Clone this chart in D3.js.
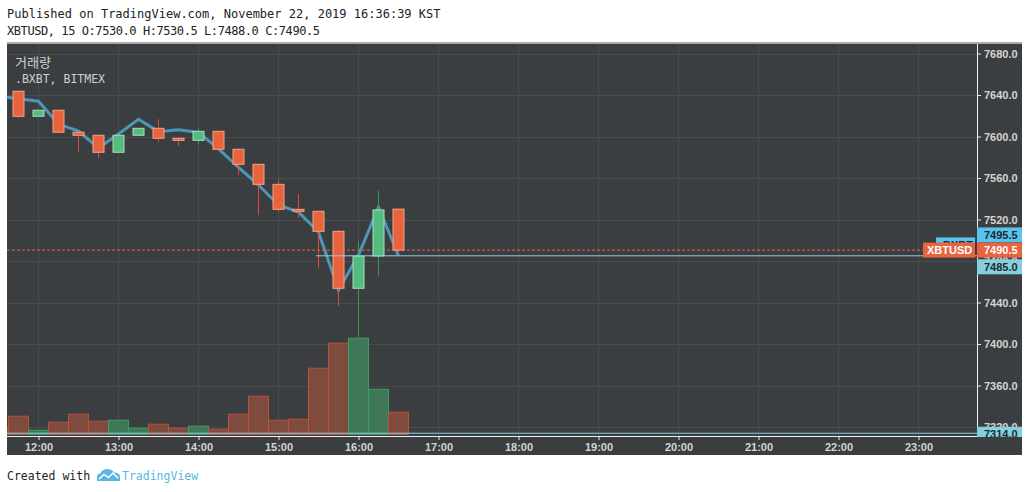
<!DOCTYPE html>
<html>
<head>
<meta charset="utf-8">
<script src="https://cdn.jsdelivr.net/npm/d3@7"></script>
<style>
  body { margin: 0; background: #fff; }
  svg { display: block; }
  .mono { font-family: "DejaVu Sans Mono", monospace; }
  .axis text { font-family: "Liberation Sans", Arial, sans-serif; font-weight: bold; font-size: 11px; fill: #d4d4d4; }
  .axis line { stroke: #e8e8e8; }
</style>
</head>
<body>
<svg id="chart" width="1029" height="492"></svg>
<script>
// XBTUSD 15 min bars, Nov 22 2019
const times  = ["11:30", "11:45", "12:00", "12:15", "12:30", "12:45", "13:00", "13:15", "13:30", "13:45", "14:00",
                "14:15", "14:30", "14:45", "15:00", "15:15", "15:30", "15:45", "16:00", "16:15", "16:30"];
const opens  = [7650.0, 7643.6, 7619.5, 7625.3, 7604.1, 7601.2, 7584.8, 7601.2, 7607.9, 7598.3, 7596.3,
                7605.0, 7587.7, 7573.2, 7553.9, 7529.8, 7527.9, 7508.6, 7453.7, 7484.8, 7530.0];
const highs  = [7655.0, 7644.0, 7625.3, 7625.3, 7604.1, 7601.2, 7601.2, 7607.9, 7616.6, 7598.3, 7607.9,
                7605.0, 7587.7, 7573.2, 7559.0, 7544.6, 7527.9, 7509.9, 7499.3, 7547.5, 7530.5];
const lows   = [7640.0, 7618.0, 7619.5, 7604.1, 7584.8, 7579.6, 7584.8, 7601.2, 7595.0, 7591.1, 7592.0,
                7587.7, 7562.6, 7524.3, 7527.5, 7521.7, 7473.5, 7436.9, 7406.7, 7465.8, 7488.0];
const closes = [7643.6, 7619.5, 7625.3, 7604.1, 7601.2, 7584.8, 7601.2, 7607.9, 7598.3, 7596.3, 7605.0,
                7587.7, 7573.2, 7553.9, 7529.8, 7527.9, 7508.6, 7453.7, 7484.8, 7529.2, 7490.5];
const volumes = [6.6, 18.3, 4.3, 12.3, 20.3, 13.3, 14.3, 6.3, 10.3, 6.3, 8.3,
                 5.3, 20.3, 38.3, 14.3, 15.3, 66.3, 91.3, 96.3, 45.3, 22.3];
// .BXBT index (comparison line)
const bxbt = [7639.0, 7636.4, 7634.0, 7612.0, 7605.3, 7588.9, 7602.4, 7616.6, 7604.7, 7606.6, 7603.9,
              7588.1, 7570.2, 7553.2, 7534.0, 7527.2, 7508.0, 7452.0, 7485.8, 7532.0, 7485.0];

const priceTicks = [7320, 7360, 7400, 7440, 7480, 7520, 7560, 7600, 7640, 7680];
const hourTicks = ["12:00", "13:00", "14:00", "15:00", "16:00", "17:00", "18:00", "19:00", "20:00", "21:00", "22:00", "23:00"];

const lastPrice = 7490.5;    // XBTUSD
const bxbtLast = 7485.0;
const bxbtTag = 7495.5;
const lowTag = 7314.0;

const headerLine1 = "Published on TradingView.com, November 22, 2019 16:36:39 KST";
const headerLine2 = "XBTUSD, 15 O:7530.0 H:7530.5 L:7488.0 C:7490.5";

// layout
const plotL = 7, plotR = 977, plotT = 44, plotB = 436, panelR = 1022, timeB = 455;
const bg = "#3b3e40", grid = "#4a4d4f";
const upFill = "#55bb80", upStroke = "#a5e2b6", upWick = "#2f9c50";
const dnFill = "#e8643f", dnStroke = "#f5a287", dnWick = "#e4463a";

const svg = d3.select("#chart");
const toDate = s => { const [h, m] = s.split(":").map(Number); return new Date(Date.UTC(2019, 10, 22, h, m)); };

const x = d3.scaleUtc()
  .domain([toDate("12:00"), toDate("23:00")])
  .range([38.5, 918.5]);
const y = d3.scaleLinear()
  .domain([7320, 7680])
  .range([427, 53.5]);
const yVol = d3.scaleLinear()
  .domain([0, 100])
  .range([434.5, 334.5]);

const bars = times.map((t, i) => ({
  t: toDate(t), o: opens[i], h: highs[i], l: lows[i], c: closes[i], v: volumes[i], up: closes[i] >= opens[i]
}));

// header
svg.append("text").attr("class", "mono").attr("x", 7).attr("y", 18)
  .attr("font-size", 12).attr("fill", "#222").text(headerLine1);
svg.append("text").attr("class", "mono").attr("x", 7).attr("y", 35)
  .attr("font-size", 12).attr("fill", "#222").attr("textLength", 313).attr("lengthAdjust", "spacing")
  .text(headerLine2);
svg.append("line").attr("x1", 7).attr("x2", panelR).attr("y1", 43).attr("y2", 43)
  .attr("stroke", "#555").attr("stroke-width", 1);

// panels
svg.append("rect").attr("x", plotL).attr("y", plotT).attr("width", panelR - plotL).attr("height", timeB - plotT)
  .attr("fill", bg);

svg.append("clipPath").attr("id", "plotClip")
  .append("rect").attr("x", plotL).attr("y", plotT).attr("width", plotR - plotL).attr("height", plotB - plotT);
const plot = svg.append("g").attr("clip-path", "url(#plotClip)");

// grid
plot.selectAll(".vgrid").data(hourTicks).join("line")
  .attr("x1", d => x(toDate(d))).attr("x2", d => x(toDate(d)))
  .attr("y1", plotT).attr("y2", plotB)
  .attr("stroke", grid);
plot.selectAll(".hgrid").data(priceTicks).join("line")
  .attr("x1", plotL).attr("x2", plotR)
  .attr("y1", d => Math.round(y(d)) + 0.5).attr("y2", d => Math.round(y(d)) + 0.5)
  .attr("stroke", grid);

// .BXBT line
plot.append("path")
  .datum(bars.map((b, i) => ({ t: b.t, p: bxbt[i] })))
  .attr("fill", "none")
  .attr("stroke", "#4a98b6")
  .attr("stroke-width", 3)
  .attr("d", d3.line().x(d => x(d.t)).y(d => y(d.p)));

// last price dashed line
plot.append("line")
  .attr("x1", plotL).attr("x2", 923)
  .attr("y1", y(lastPrice)).attr("y2", y(lastPrice))
  .attr("stroke", "#f2603a").attr("stroke-dasharray", "3,2");

// candles
const candle = plot.selectAll(".candle").data(bars).join("g");
candle.append("line")
  .attr("x1", d => x(d.t)).attr("x2", d => x(d.t))
  .attr("y1", d => y(d.h)).attr("y2", d => y(d.l))
  .attr("stroke", d => d.up ? upWick : dnWick);
candle.append("rect")
  .attr("x", d => x(d.t) - 5.5)
  .attr("width", 11)
  .attr("y", d => y(Math.max(d.o, d.c)))
  .attr("height", d => Math.max(1, Math.abs(y(d.o) - y(d.c))))
  .attr("fill", d => d.up ? upFill : dnFill)
  .attr("stroke", d => d.up ? upStroke : dnStroke);

// volume
plot.selectAll(".vol").data(bars).join("rect")
  .attr("x", d => x(d.t) - 10)
  .attr("width", 20)
  .attr("y", d => yVol(d.v))
  .attr("height", d => yVol(0) - yVol(d.v))
  .attr("fill", d => d.up ? "#3f7858" : "#7f4b3f")
  .attr("stroke", d => d.up ? "#3f9c60" : "#bb5236");

// .BXBT price line and low line
plot.append("line")
  .attr("x1", 316).attr("x2", plotR)
  .attr("y1", y(bxbtLast)).attr("y2", y(bxbtLast))
  .attr("stroke", "#8bd2e4");
plot.append("line")
  .attr("x1", plotL).attr("x2", plotR)
  .attr("y1", y(lowTag)).attr("y2", y(lowTag))
  .attr("stroke", "#8bd2e4");

// axes
const yAxis = svg.append("g").attr("class", "axis")
  .attr("transform", `translate(${plotR},0)`)
  .call(d3.axisRight(y).tickValues(priceTicks).tickFormat(d3.format(".1f")).tickSize(4).tickPadding(3));
yAxis.select(".domain").remove();

const xAxis = svg.append("g").attr("class", "axis")
  .attr("transform", `translate(0,${plotB})`)
  .call(d3.axisBottom(x).tickValues(hourTicks.map(toDate)).tickFormat(d3.utcFormat("%H:%M")).tickSize(4).tickPadding(3));
xAxis.select(".domain").remove();

svg.append("line").attr("x1", plotL).attr("x2", plotR + 0.5).attr("y1", plotB + 0.5).attr("y2", plotB + 0.5)
  .attr("stroke", "#f0f0f0");
svg.append("line").attr("x1", plotR + 0.5).attr("x2", plotR + 0.5).attr("y1", plotT).attr("y2", plotB + 0.5)
  .attr("stroke", "#f0f0f0");

// price tags
svg.append("clipPath").attr("id", "axisClip")
  .append("rect").attr("x", plotL).attr("y", plotT).attr("width", panelR - plotL).attr("height", plotB - plotT + 1);
const tags = svg.append("g").attr("clip-path", "url(#axisClip)")
  .style("font-family", "'Liberation Sans', Arial, sans-serif").style("font-weight", "bold").style("font-size", "11px");

function tag(x0, x1, cy, fill, textFill, label, anchorX) {
  tags.append("rect").attr("x", x0).attr("y", cy - 7.5).attr("width", x1 - x0).attr("height", 15).attr("fill", fill);
  tags.append("text").attr("x", anchorX).attr("y", cy).attr("dy", "0.35em")
    .attr("fill", textFill).text(label);
}
// .BXBT in-plot tag (mostly hidden behind XBTUSD)
tag(936, 975, y(bxbtTag), "#58c3ee", "#1d2a30", ".BXBT", 940);
tag(923, 975, y(lastPrice), "#e8643f", "#fff", "XBTUSD", 927);
tag(plotR, panelR, y(bxbtTag) - 10, "#58c3ee", "#1d2a30", d3.format(".1f")(bxbtTag), 984);
tag(plotR, panelR, y(lastPrice), "#e8643f", "#fff", d3.format(".1f")(lastPrice), 984);
tag(plotR, panelR, y(bxbtLast) + 11, "#85d0df", "#1d2a30", d3.format(".1f")(bxbtLast), 984);
tag(plotR, panelR, y(lowTag) + 1, "#85d0df", "#1d2a30", d3.format(".1f")(lowTag), 984);

// legend
svg.append("text").attr("x", 15).attr("y", 67)
  .attr("font-family", "'Noto Sans CJK KR', sans-serif").attr("font-size", 13).attr("fill", "#d0d0d0").text("거래량");
svg.append("text").attr("class", "mono").attr("x", 15).attr("y", 83)
  .attr("font-size", 11.5).attr("fill", "#d0d0d0").text(".BXBT, BITMEX");

// footer
svg.append("text").attr("class", "mono").attr("x", 7).attr("y", 479.5)
  .attr("font-size", 11.5).attr("fill", "#222").text("Created with");
svg.append("path")
  .attr("d", "M97,481 L97,477 Q97,473.5 100.5,473.5 Q102,469 107.5,469 Q112,469 114,472.5 Q120,472.5 120,477 L120,481 Z")
  .attr("fill", "#5bb7e2");
svg.append("path")
  .attr("d", "M99,479 L104,474.5 L108.5,477.5 L113,473 L118,478")
  .attr("fill", "none").attr("stroke", "#fff").attr("stroke-width", 1.5);
svg.append("text").attr("class", "mono").attr("x", 122).attr("y", 479.5)
  .attr("font-size", 11.5).attr("fill", "#5bb7e2").text("TradingView");
</script>
</body>
</html>
